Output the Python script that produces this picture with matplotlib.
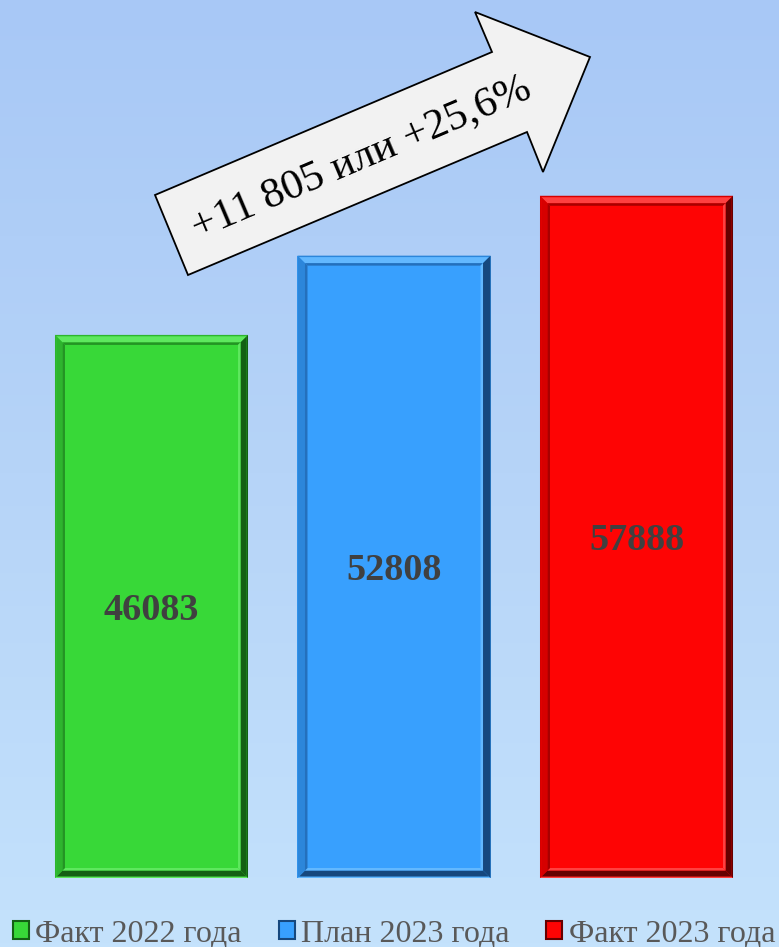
import matplotlib
matplotlib.use('Agg')
import matplotlib.pyplot as plt
import numpy as np
from matplotlib.patches import Polygon, Patch
from matplotlib.colors import LinearSegmentedColormap

categories = ['Факт 2022 года', 'План 2023 года', 'Факт 2023 года']
values = [46083, 52808, 57888]
labels = ['46083', '52808', '57888']
arrow_text = '+11 805 или +25,6%'

face = ['#38d838', '#38a0fe', '#fe0404']
light = ['#5ee85e', '#62b8ff', '#ff4040']
mid = ['#2eb42e', '#2c86da', '#d60000']
dark = ['#146014', '#16487e', '#660000']
inner = ['#249424', '#2470bc', '#a80000']

W, H = 779, 947
fig = plt.figure(figsize=(W / 100, H / 100), dpi=100)

# background gradient
bg = fig.add_axes([0, 0, 1, 1], zorder=0)
cmap = LinearSegmentedColormap.from_list('bg', ['#a8c8f6', '#b6d4f8', '#c4e2fc'])
grad = np.linspace(0, 1, 256).reshape(-1, 1)
bg.imshow(grad, aspect='auto', cmap=cmap, extent=[0, 1, 0, 1], origin='upper')
bg.set_axis_off()

ax = fig.add_axes([30.25 / W, 69 / H, 727.5 / W, 878 / H], zorder=1)
ax.patch.set_alpha(0)
ymax = 74500
ax.set_xlim(-0.5, 2.5)
ax.set_ylim(0, ymax)
ax.set_axis_off()

bar_w = 0.796
x = np.arange(len(values))
ax.bar(x, values, width=bar_w, color=face, edgecolor='none', zorder=2)

px_x = 727.5 / 3.0      # pixels per x unit
px_y = 878 / ymax       # pixels per y unit


def ring(x0, y0, x1, y1, bpx, cols, z):
    bx = bpx / px_x
    by = bpx / px_y
    top, left, right, bottom = cols
    quads = [
        ([(x0, y1), (x1, y1), (x1 - bx, y1 - by), (x0 + bx, y1 - by)], top),
        ([(x0, y0), (x1, y0), (x1 - bx, y0 + by), (x0 + bx, y0 + by)], bottom),
        ([(x0, y0), (x0, y1), (x0 + bx, y1 - by), (x0 + bx, y0 + by)], left),
        ([(x1, y0), (x1, y1), (x1 - bx, y1 - by), (x1 - bx, y0 + by)], right),
    ]
    for pts, c in quads:
        ax.add_patch(Polygon(pts, closed=True, facecolor=c, edgecolor='none', zorder=z))
    return x0 + bx, y0 + by, x1 - bx, y1 - by


for i, v in enumerate(values):
    x0, x1 = x[i] - bar_w / 2, x[i] + bar_w / 2
    r = ring(x0, 0, x1, v, 1.5, (mid[i], mid[i], dark[i], light[i]), 3)
    r = ring(*r, 6, (light[i], mid[i], dark[i], dark[i]), 3)
    ring(*r, 2.5, (inner[i], inner[i], light[i], light[i]), 3)
    ax.text(x[i], v / 2, labels[i], ha='center', va='center_baseline', fontsize=27.5,
            fontweight='bold', family='Liberation Serif', color='#404040', zorder=4)

# arrow annotation
arrow_px = [(155, 195), (492, 52), (475, 12), (590, 57), (543, 172), (527, 132), (188, 275)]
arrow_pts = [(px / W, 1 - py / H) for px, py in arrow_px]
fig.patches.append(Polygon(arrow_pts, closed=True, facecolor='#f2f2f2', edgecolor='black',
                           linewidth=1.3, transform=fig.transFigure, zorder=5))
fig.text(361 / W, 1 - 158 / H, arrow_text, rotation=23, rotation_mode='anchor',
         ha='center', va='center', fontsize=31, family='Liberation Serif', color='black',
         zorder=6)

handles = [Patch(facecolor=face[i], edgecolor=dark[i], linewidth=1.5) for i in range(3)]
leg = fig.legend(handles, categories, loc='center', bbox_to_anchor=(394 / W, 13 / H),
                 ncol=3, frameon=False, handlelength=0.5, handleheight=0.5,
                 handletextpad=0.2, columnspacing=1.15, borderpad=0,
                 prop={'family': 'Liberation Serif', 'size': 23})
for t in leg.get_texts():
    t.set_color('#595959')

fig.savefig('out.png', dpi=100)
